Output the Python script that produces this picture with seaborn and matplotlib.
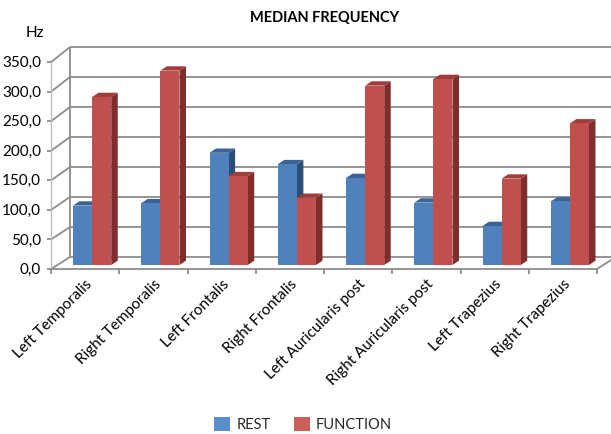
import matplotlib
matplotlib.use("Agg")
import numpy as np
import pandas as pd
import seaborn as sns
import matplotlib.pyplot as plt
from matplotlib import transforms
from matplotlib.patches import Polygon, Patch

# --- data -------------------------------------------------------------
muscles = ["Left Temporalis", "Right Temporalis", "Left Frontalis", "Right Frontalis",
           "Left Auricularis post", "Right Auricularis post", "Left Trapezius",
           "Right Trapezius"]
rest = [99, 103, 187, 168, 145, 104, 65, 106]
function = [280, 324, 148, 112, 299, 310, 144, 236]
series = ["REST", "FUNCTION"]
y_ticks = [0, 50, 100, 150, 200, 250, 300, 350]
y_tick_labels = ["0,0", "50,0", "100,0", "150,0", "200,0", "250,0", "300,0", "350,0"]

df = pd.DataFrame({
    "muscle": muscles * 2,
    "hz": rest + function,
    "state": [series[0]] * len(muscles) + [series[1]] * len(muscles),
})

# --- style --------------------------------------------------------------
BLUE, BLUE_TOP, BLUE_SIDE = "#4F81BD", "#3A6496", "#2D4E76"
RED, RED_TOP, RED_SIDE = "#C0504D", "#9E3D3A", "#7F2E2C"
BLUE_KEY, RED_KEY = "#5A8FCC", "#CD605C"
GRID = "#8C8C8C"

sns.set_theme(style="white")
plt.rcParams["font.family"] = ["Lato", "DejaVu Sans"]

W, H = 611, 435
fig = plt.figure(figsize=(W / 100, H / 100), dpi=100)
fig.patch.set_facecolor("white")
ax = fig.add_axes([58 / W, (H - 266) / H, 546 / W, 210 / H])

sns.barplot(data=df, x="muscle", y="hz", hue="state", palette=[BLUE, RED],
            width=0.56, gap=0, saturation=1, linewidth=0, legend=False, ax=ax)
ax.set_xlim(-0.5, len(muscles) - 0.5)
ax.set_ylim(0, y_ticks[-1])
ax.axis("off")

ident = transforms.IdentityTransform()
FRONT = np.array([-7.0, -4.0])   # pixel offset of the front plane
BACK = np.array([12.0, 8.0])     # pixel offset of the back wall
FRONT_SCALE = 0.985              # front plane is slightly smaller (perspective)


def back_pt(x, v):
    return ax.transData.transform((x, v)) + BACK


def front_pt(x, v):
    return ax.transData.transform((x, v * FRONT_SCALE)) + FRONT


def seg(p, q, **kw):
    ax.add_line(plt.Line2D([p[0], q[0]], [p[1], q[1]], transform=ident,
                           clip_on=False, **kw))


x_lo, x_hi = -0.5, len(muscles) - 0.5
line_kw = dict(color=GRID, lw=1.3, zorder=1, solid_capstyle="butt")

# back wall gridlines and side wall diagonals
for v, lab in zip(y_ticks, y_tick_labels):
    seg(back_pt(x_lo, v), back_pt(x_hi, v) + [20, 0], **line_kw)
    seg(front_pt(x_lo, v), back_pt(x_lo, v), **line_kw)
    seg(front_pt(x_lo, v), front_pt(x_lo, v) + [-4, 0], **line_kw)
    ax.text(*(front_pt(x_lo, v) + [-10, 0]), lab,
            transform=ident, ha="right", va="center", fontsize=11, color="#000000")

seg(back_pt(x_lo, 0), back_pt(x_lo, y_ticks[-1]), **line_kw)
seg(front_pt(x_lo, 0), front_pt(x_lo, y_ticks[-1]), color="#BDBDBD", lw=1.0, zorder=1)

# floor
seg(front_pt(x_lo, 0), front_pt(x_hi, 0), **line_kw)
seg(front_pt(x_hi, 0), back_pt(x_hi, 0) + [14, 9], **line_kw)
for k in range(len(muscles) + 1):
    p = front_pt(k - 0.5, 0)
    seg(p, p + [0, -5], **line_kw)

# category labels
for i, name in enumerate(muscles):
    p = front_pt(i, 0) + [5, -12]
    ax.text(p[0], p[1], name, transform=ident, rotation=45, rotation_mode="anchor",
            ha="right", va="center", fontsize=11, color="#000000")

# 3-D faces for each bar
sx = (ax.transData.transform((1, 0)) - ax.transData.transform((0, 0)))[0]
sy = (ax.transData.transform((0, 1)) - ax.transData.transform((0, 0)))[1]
ddx, ddy = 6.5 / sx, 4.3 / sy

for p in list(ax.patches):
    x0, w, h = p.get_x(), p.get_width(), p.get_height()
    is_blue = np.allclose(p.get_facecolor()[:3], matplotlib.colors.to_rgb(BLUE), atol=0.02)
    top_c, side_c = (BLUE_TOP, BLUE_SIDE) if is_blue else (RED_TOP, RED_SIDE)
    z = 2 if is_blue else 3
    p.set_zorder(z + 0.2)
    p.set_clip_on(False)
    side = Polygon([(x0 + w, 0), (x0 + w + ddx, ddy), (x0 + w + ddx, h + ddy), (x0 + w, h)],
                   closed=True, facecolor=side_c, edgecolor="none", zorder=z, clip_on=False)
    top = Polygon([(x0, h), (x0 + w, h), (x0 + w + ddx, h + ddy), (x0 + ddx, h + ddy)],
                  closed=True, facecolor=top_c, edgecolor="none", zorder=z + 0.1, clip_on=False)
    ax.add_patch(side)
    ax.add_patch(top)

# titles
fig.text(325 / W, 1 - 18 / H, "MEDIAN FREQUENCY", ha="center", va="center",
         fontsize=10.5, fontweight="bold", color="#000000")
fig.text(35 / W, 1 - 33 / H, "Hz", ha="center", va="center", fontsize=11, color="#000000")

# legend
handles = [Patch(facecolor=BLUE_KEY, edgecolor="none"), Patch(facecolor=RED_KEY, edgecolor="none")]
fig.legend(handles=handles, labels=series, loc="center", bbox_to_anchor=(303 / W, 1 - 425 / H),
           ncol=2, frameon=False, fontsize=10.5, handlelength=1.1, handleheight=1.1,
           handletextpad=0.4, columnspacing=1.6)

fig.savefig("out.png", dpi=100)
